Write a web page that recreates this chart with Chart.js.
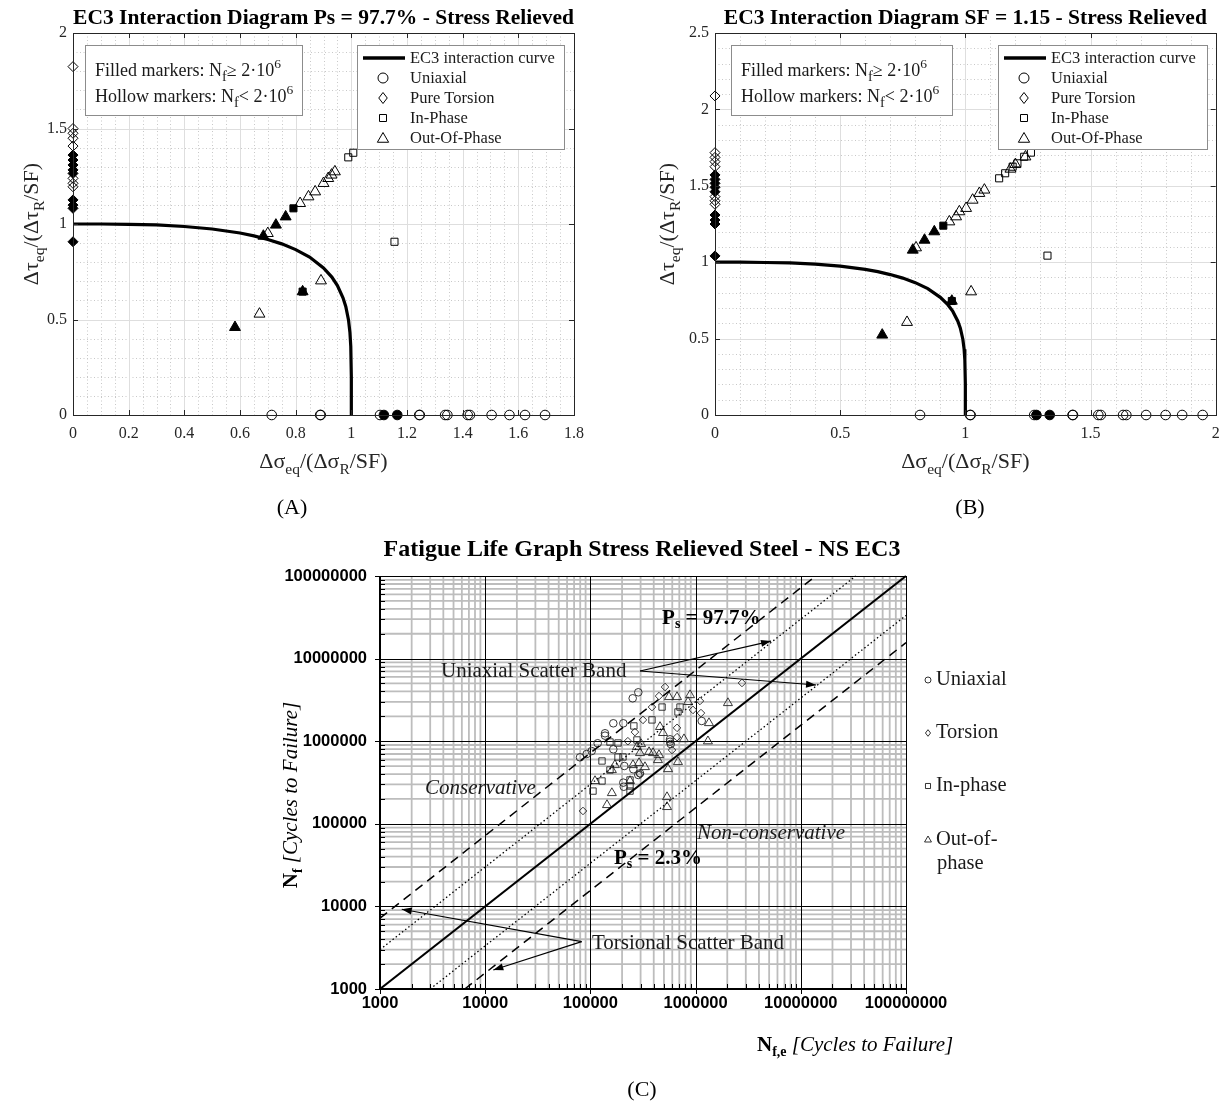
<!DOCTYPE html>
<html><head><meta charset="utf-8">
<script src="https://cdn.jsdelivr.net/npm/chart.js@4.4.1/dist/chart.umd.min.js"></script>
<style>
html,body{margin:0;padding:0;background:#fff;}
#wrap{position:relative;width:1223px;height:1107px;background:#fff;overflow:hidden}
.box{position:absolute}
</style></head><body>
<div id="wrap">
<div class="box" style="left:0;top:0;width:610px;height:530px"><canvas id="cA"></canvas></div>
<div class="box" style="left:610px;top:0;width:613px;height:530px"><canvas id="cB"></canvas></div>
<div class="box" style="left:0;top:530px;width:1223px;height:577px"><canvas id="cC"></canvas></div>
</div>
<script>
// ================= DATA =================
// EC3 interaction curve (normalised axes)
const curveX = [0, 0.1, 0.2, 0.3, 0.4, 0.5, 0.6, 0.65, 0.7, 0.75, 0.8, 0.85, 0.9, 0.93, 0.95, 0.97, 0.98, 0.99, 0.995, 0.998, 1.0, 1.0];
const curveY = [1.0, 1.0, 0.998, 0.995, 0.987, 0.974, 0.953, 0.938, 0.919, 0.896, 0.866, 0.827, 0.770, 0.722, 0.678, 0.614, 0.568, 0.496, 0.431, 0.359, 0.2, 0];

// Panel A : Ps = 97.7 %
const A_uniHollowX = [0.714, 0.888, 0.890, 1.103, 1.244, 1.246, 1.337, 1.345, 1.418, 1.426, 1.504, 1.568, 1.624, 1.696];
const A_uniHollowY = [0, 0, 0, 0, 0, 0, 0, 0, 0, 0, 0, 0, 0, 0];
const A_uniFilledX = [1.117, 1.165];
const A_uniFilledY = [0, 0];
const A_torHollowX = [0, 0, 0, 0, 0, 0, 0, 0];
const A_torHollowY = [1.824, 1.500, 1.475, 1.449, 1.408, 1.239, 1.213, 1.195];
const A_torFilledX = [0, 0, 0, 0, 0, 0, 0, 0, 0];
const A_torFilledY = [1.361, 1.335, 1.309, 1.283, 1.265, 1.126, 1.099, 1.082, 0.907];
const A_inHollowX = [0.989, 1.007, 1.036, 1.052, 1.076, 1.099, 1.155];
const A_inHollowY = [1.349, 1.373, 1.415, 1.435, 1.472, 1.496, 0.907];
const A_inFilledX = [0.792, 0.825];
const A_inFilledY = [1.082, 0.646];
const A_oopHollowX = [0.700, 0.816, 0.846, 0.870, 0.900, 0.917, 0.929, 0.941, 0.891, 0.670];
const A_oopHollowY = [0.951, 1.108, 1.143, 1.169, 1.213, 1.239, 1.257, 1.274, 0.703, 0.529];
const A_oopFilledX = [0.684, 0.729, 0.764, 0.825, 0.582];
const A_oopFilledY = [0.937, 0.995, 1.038, 0.646, 0.459];

// Panel B : SF = 1.15
const B_uniHollowX = [0.819, 1.019, 1.021, 1.275, 1.428, 1.430, 1.531, 1.541, 1.630, 1.643, 1.722, 1.800, 1.866, 1.948];
const B_uniHollowY = [0, 0, 0, 0, 0, 0, 0, 0, 0, 0, 0, 0, 0, 0];
const B_uniFilledX = [1.284, 1.337];
const B_uniFilledY = [0, 0];
const B_torHollowX = [0, 0, 0, 0, 0, 0, 0, 0];
const B_torHollowY = [2.088, 1.717, 1.686, 1.658, 1.625, 1.429, 1.402, 1.379];
const B_torFilledX = [0, 0, 0, 0, 0, 0, 0, 0, 0];
const B_torFilledY = [1.571, 1.542, 1.516, 1.490, 1.461, 1.309, 1.276, 1.250, 1.041];
const B_inHollowX = [1.135, 1.159, 1.189, 1.208, 1.235, 1.262, 1.328];
const B_inHollowY = [1.549, 1.582, 1.625, 1.647, 1.690, 1.717, 1.043];
const B_inFilledX = [0.912, 0.946];
const B_inFilledY = [1.239, 0.746];
const B_oopHollowX = [0.803, 0.936, 0.963, 0.976, 1.003, 1.029, 1.056, 1.076, 1.180, 1.200, 1.240, 1.023, 0.767];
const B_oopHollowY = [1.095, 1.265, 1.298, 1.331, 1.353, 1.407, 1.451, 1.473, 1.610, 1.640, 1.690, 0.807, 0.607];
const B_oopFilledX = [0.790, 0.837, 0.876, 0.946, 0.668];
const B_oopFilledY = [1.080, 1.145, 1.200, 0.746, 0.524];

// Panel C : fatigue life (N_f,e vs N_f)
const C_uniX = [79600, 92200, 102800, 117300, 137700, 137700, 165100, 205500, 252400, 285300, 165100, 210000, 255700, 296000, 285300, 205500, 207700, 571000, 571000, 580000, 1143000];
const C_uniY = [638000, 700000, 760000, 944000, 1247000, 1167000, 1647000, 1647000, 3306000, 3908000, 798000, 501000, 457000, 408000, 390000, 315000, 281000, 1054000, 986000, 925000, 1757000];
const C_torX = [512000, 449000, 385000, 316000, 265000, 227000, 1100000, 944000, 1125000, 666000, 666000, 597000, 296000, 85000, 2760000];
const C_torY = [4530000, 3520000, 2590000, 1810000, 1290000, 1000000, 3070000, 2390000, 2190000, 1450000, 1120000, 782000, 401000, 143000, 5070000];
const C_inX = [480000, 385000, 259000, 277000, 153500, 183000, 183000, 204000, 128900, 153500, 128900, 105900, 238000, 238000, 238000, 711000, 680000];
const C_inY = [2590000, 1810000, 1530000, 1035000, 978000, 951000, 644000, 644000, 576000, 448000, 330000, 249000, 339000, 287000, 249000, 2590000, 2260000];
const C_oopX = [559000, 666000, 885000, 847000, 2030000, 1340000, 1310000, 776000, 459000, 490000, 303000, 277000, 296000, 361000, 394000, 449000, 290000, 439000, 680000, 547000, 254000, 171000, 160000, 110600, 160000, 143800, 238000, 535000, 535000, 330000];
const C_oopY = [3430000, 3430000, 3620000, 2990000, 2900000, 1660000, 1000000, 1060000, 1490000, 1260000, 925000, 851000, 720000, 740000, 720000, 681000, 545000, 592000, 560000, 460000, 515000, 515000, 448000, 330000, 236000, 169000, 330000, 211000, 160000, 487000];
// reference lines (endpoints)
const C_diagX = [1000, 100000000];          const C_diagY = [1000, 100000000];
const C_upDashX = [1000, 13890000];         const C_upDashY = [7200, 100000000];
const C_upDotX = [1000, 33300000];          const C_upDotY = [3000, 100000000];
const C_loDotX = [3000, 100000000];         const C_loDotY = [1000, 33300000];
const C_loDashX = [6400, 100000000];        const C_loDashY = [1000, 15600000];
// tick values / labels
const A_xTicks = [0, 0.2, 0.4, 0.6, 0.8, 1, 1.2, 1.4, 1.6, 1.8];
const A_xTickLabels = ['0', '0.2', '0.4', '0.6', '0.8', '1', '1.2', '1.4', '1.6', '1.8'];
const A_yTicks = [0, 0.5, 1, 1.5, 2];
const A_yTickLabels = ['0', '0.5', '1', '1.5', '2'];
const B_xTicks = [0, 0.5, 1, 1.5, 2];
const B_xTickLabels = ['0', '0.5', '1', '1.5', '2'];
const B_yTicks = [0, 0.5, 1, 1.5, 2, 2.5];
const B_yTickLabels = ['0', '0.5', '1', '1.5', '2', '2.5'];
const C_tickValues = [1000, 10000, 100000, 1000000, 10000000, 100000000];
const C_tickLabels = ['1000', '10000', '100000', '1000000', '10000000', '100000000'];
const legendLabels = ['EC3 interaction curve', 'Uniaxial', 'Pure Torsion', 'In-Phase', 'Out-Of-Phase'];
const C_legendLabels = ['Uniaxial', 'Torsion', 'In-phase', 'Out-of-', 'phase'];

// ================= HELPERS =================
const SERIF = '"Liberation Serif", "Times New Roman", serif';
const SANS = '"Liberation Sans", Arial, sans-serif';
function fontOf(s){ return (s.i?'italic ':'') + (s.b?'bold ':'') + s.z + 'px ' + (s.f || SERIF); }
function drawRich(ctx, segs, x, y, align){
  let w = 0;
  const ws = segs.map(s => { ctx.font = fontOf(s); const m = ctx.measureText(s.t).width; w += m; return m; });
  let cx = align === 'center' ? x - w/2 : (align === 'right' ? x - w : x);
  ctx.textAlign = 'left'; ctx.textBaseline = 'alphabetic';
  segs.forEach((s, k) => { ctx.font = fontOf(s); ctx.fillText(s.t, cx, y + (s.dy || 0)); cx += ws[k]; });
}
function pts(xs, ys){ return xs.map((x, i) => ({x: x, y: ys[i]})); }
function markerSet(label, xs, ys, style, filled, r, bw, col){
  return {label, data: pts(xs, ys), showLine: false, pointStyle: style, pointRadius: r, pointHoverRadius: r,
    pointBackgroundColor: filled ? '#000' : 'rgba(0,0,0,0)', pointBorderColor: col || '#000',
    pointBorderWidth: bw || 1, clip: false};
}
function lineSet(label, xs, ys, width, dash){
  return {label, data: pts(xs, ys), showLine: true, borderColor: '#000', backgroundColor: '#000', borderWidth: width,
    borderDash: dash || [], pointRadius: 0, pointHoverRadius: 0, fill: false, tension: 0, clip: false};
}
function drawMarker(ctx, style, x, y, r, filled, lw){
  ctx.save(); ctx.beginPath();
  if (style === 'circle') ctx.arc(x, y, r, 0, Math.PI*2);
  else if (style === 'rectRot') { ctx.moveTo(x, y - r*1.1); ctx.lineTo(x + r*0.85, y); ctx.lineTo(x, y + r*1.1); ctx.lineTo(x - r*0.85, y); ctx.closePath(); }
  else if (style === 'rect') { const h = r*0.7; ctx.rect(x - h, y - h, 2*h, 2*h); }
  else if (style === 'triangle') { ctx.moveTo(x, y - r); ctx.lineTo(x + r*0.866, y + r*0.5); ctx.lineTo(x - r*0.866, y + r*0.5); ctx.closePath(); }
  ctx.lineWidth = lw || 1; ctx.strokeStyle = '#000';
  if (filled) { ctx.fillStyle = '#000'; ctx.fill(); }
  ctx.stroke(); ctx.restore();
}
function fitX(h){ return s => { s.height = h; s.paddingLeft = 0; s.paddingRight = 0; }; }
function fitY(w){ return s => { s.width = w; s.paddingTop = 0; s.paddingBottom = 0; }; }

// ================= PANELS A & B =================
function interactionChart(canvasId, o){
  const ds = [
    lineSet(legendLabels[0], curveX, curveY, 3.2),
    markerSet('Uniaxial', o.uniHollowX, o.uniHollowY, 'circle', false, 4.8),
    markerSet('Uniaxial filled', o.uniFilledX, o.uniFilledY, 'circle', true, 4.8),
    markerSet('Pure Torsion', o.torHollowX, o.torHollowY, 'rectRot', false, 5),
    markerSet('Pure Torsion filled', o.torFilledX, o.torFilledY, 'rectRot', true, 5),
    markerSet('Out-Of-Phase', o.oopHollowX, o.oopHollowY, 'triangle', false, 6.3),
    markerSet('Out-Of-Phase filled', o.oopFilledX, o.oopFilledY, 'triangle', true, 6.3),
    markerSet('In-Phase', o.inHollowX, o.inHollowY, 'rect', false, 5),
    markerSet('In-Phase filled', o.inFilledX, o.inFilledY, 'rect', true, 5)
  ];
  const tickFont = {family: SERIF, size: 16};
  const deco = {
    id: 'deco' + canvasId,
    beforeDatasetsDraw(chart){
      const {ctx, chartArea: a, scales: {x, y}} = chart;
      ctx.save();
      ctx.lineWidth = 1;
      ctx.strokeStyle = '#c8c8c8'; ctx.setLineDash([1, 2.5]);
      const nx = Math.round(o.xMax / o.xMinor), ny = Math.round(o.yMax / o.yMinor);
      for (let k = 1; k < nx; k++){ const px = Math.round(x.getPixelForValue(k*o.xMinor)) + 0.5; ctx.beginPath(); ctx.moveTo(px, a.top); ctx.lineTo(px, a.bottom); ctx.stroke(); }
      for (let k = 1; k < ny; k++){ const py = Math.round(y.getPixelForValue(k*o.yMinor)) + 0.5; ctx.beginPath(); ctx.moveTo(a.left, py); ctx.lineTo(a.right, py); ctx.stroke(); }
      ctx.setLineDash([]); ctx.strokeStyle = '#dedede';
      o.xTicks.forEach(v => { const px = Math.round(x.getPixelForValue(v)) + 0.5; ctx.beginPath(); ctx.moveTo(px, a.top); ctx.lineTo(px, a.bottom); ctx.stroke(); });
      o.yTicks.forEach(v => { const py = Math.round(y.getPixelForValue(v)) + 0.5; ctx.beginPath(); ctx.moveTo(a.left, py); ctx.lineTo(a.right, py); ctx.stroke(); });
      ctx.restore();
    },
    afterDraw(chart){
      const {ctx, chartArea: a, scales: {x, y}} = chart;
      ctx.save();
      // frame + inward ticks
      ctx.strokeStyle = '#262626'; ctx.lineWidth = 1;
      ctx.strokeRect(Math.round(a.left) + 0.5, Math.round(a.top) + 0.5, Math.round(a.right - a.left), Math.round(a.bottom - a.top));
      const tl = 5;
      o.xTicks.forEach(v => { const px = Math.round(x.getPixelForValue(v)) + 0.5;
        ctx.beginPath(); ctx.moveTo(px, a.bottom); ctx.lineTo(px, a.bottom - tl); ctx.moveTo(px, a.top); ctx.lineTo(px, a.top + tl); ctx.stroke(); });
      o.yTicks.forEach(v => { const py = Math.round(y.getPixelForValue(v)) + 0.5;
        ctx.beginPath(); ctx.moveTo(a.left, py); ctx.lineTo(a.left + tl, py); ctx.moveTo(a.right, py); ctx.lineTo(a.right - tl, py); ctx.stroke(); });
      // annotation box
      const bx = a.left + o.annX, by = a.top + 12;
      ctx.fillStyle = '#fff'; ctx.fillRect(bx, by, o.annW, 70);
      ctx.strokeStyle = '#8c8c8c'; ctx.strokeRect(bx + 0.5, by + 0.5, o.annW, 70);
      ctx.fillStyle = '#1a1a1a';
      drawRich(ctx, [{t:'Filled markers: N', z:18}, {t:'f', z:14.5, dy:5}, {t:'\u2265 2\u00b710', z:18}, {t:'6', z:13.5, dy:-8}], bx + 10, by + 31, 'left');
      drawRich(ctx, [{t:'Hollow markers: N', z:18}, {t:'f', z:14.5, dy:5}, {t:'< 2\u00b710', z:18}, {t:'6', z:13.5, dy:-8}], bx + 10, by + 57, 'left');
      // legend
      const lx = a.left + o.legX, ly = a.top + 12, lw = o.legW;
      ctx.fillStyle = '#fff'; ctx.fillRect(lx, ly, lw, 104);
      ctx.strokeStyle = '#8c8c8c'; ctx.strokeRect(lx + 0.5, ly + 0.5, lw, 104);
      ctx.strokeStyle = '#000'; ctx.lineWidth = 3.5;
      ctx.beginPath(); ctx.moveTo(lx + 6, ly + 13); ctx.lineTo(lx + 48, ly + 13); ctx.stroke();
      drawMarker(ctx, 'circle', lx + 26, ly + 33, 5, false, 1);
      drawMarker(ctx, 'rectRot', lx + 26, ly + 53, 5, false, 1);
      drawMarker(ctx, 'rect', lx + 26, ly + 73, 5, false, 1);
      drawMarker(ctx, 'triangle', lx + 26, ly + 94, 6.5, false, 1);
      ctx.fillStyle = '#1a1a1a'; ctx.font = '16.5px ' + SERIF; ctx.textAlign = 'left'; ctx.textBaseline = 'middle';
      legendLabels.forEach((t, k) => ctx.fillText(t, lx + 53, ly + 14 + 20*k));
      // title
      ctx.fillStyle = '#000'; ctx.font = 'bold 21.5px ' + SERIF; ctx.textAlign = 'center'; ctx.textBaseline = 'alphabetic';
      ctx.fillText(o.title, (a.left + a.right)/2, 24);
      // axis titles
      ctx.fillStyle = '#262626';
      drawRich(ctx, [{t:'\u0394\u03c3', z:22}, {t:'eq', z:15.5, dy:6}, {t:'/(\u0394\u03c3', z:22}, {t:'R', z:15.5, dy:6}, {t:'/SF)', z:22}], (a.left + a.right)/2, 468, 'center');
      ctx.save(); ctx.translate(o.yTitleX, (a.top + a.bottom)/2); ctx.rotate(-Math.PI/2);
      drawRich(ctx, [{t:'\u0394\u03c4', z:22}, {t:'eq', z:15.5, dy:6}, {t:'/(\u0394\u03c4', z:22}, {t:'R', z:15.5, dy:6}, {t:'/SF)', z:22}], 0, 0, 'center');
      ctx.restore();
      // panel label
      ctx.fillStyle = '#000'; ctx.font = '22px ' + SERIF; ctx.textAlign = 'center'; ctx.textBaseline = 'middle';
      ctx.fillText(o.panel, o.panelX, 508);
      ctx.restore();
    }
  };
  return new Chart(document.getElementById(canvasId), {
    type: 'scatter',
    data: {datasets: ds},
    options: {
      responsive: true, maintainAspectRatio: false, animation: false, events: [],
      layout: {padding: {top: 33, right: o.padRight, left: 0, bottom: 0}},
      plugins: {legend: {display: false}, tooltip: {enabled: false}, title: {display: false}},
      scales: {
        x: {type: 'linear', min: 0, max: o.xMax,
            afterBuildTicks: s => { s.ticks = o.xTicks.map(v => ({value: v})); },
            ticks: {callback: (v, i) => o.xTickLabels[i], font: tickFont, color: '#262626', padding: 9, maxRotation: 0, autoSkip: false},
            grid: {display: false, drawTicks: false}, border: {display: false},
            afterFit: fitX(115)},
        y: {type: 'linear', min: 0, max: o.yMax,
            afterBuildTicks: s => { s.ticks = o.yTicks.map(v => ({value: v})); },
            ticks: {callback: (v, i) => o.yTickLabels[i], font: tickFont, color: '#262626', padding: 6, autoSkip: false},
            grid: {display: false, drawTicks: false}, border: {display: false},
            afterFit: fitY(o.yWidth)}
      }
    },
    plugins: [deco]
  });
}

interactionChart('cA', {
  uniHollowX: A_uniHollowX, uniHollowY: A_uniHollowY, uniFilledX: A_uniFilledX, uniFilledY: A_uniFilledY,
  torHollowX: A_torHollowX, torHollowY: A_torHollowY, torFilledX: A_torFilledX, torFilledY: A_torFilledY,
  inHollowX: A_inHollowX, inHollowY: A_inHollowY, inFilledX: A_inFilledX, inFilledY: A_inFilledY,
  oopHollowX: A_oopHollowX, oopHollowY: A_oopHollowY, oopFilledX: A_oopFilledX, oopFilledY: A_oopFilledY,
  xMax: 1.8, yMax: 2, xTicks: A_xTicks, yTicks: A_yTicks, xTickLabels: A_xTickLabels, yTickLabels: A_yTickLabels,
  xMinor: 0.05, yMinor: 0.1,
  yWidth: 73, padRight: 36, annX: 12, annW: 217, legX: 284, legW: 207, yTitleX: 38,
  title: 'EC3 Interaction Diagram Ps = 97.7% - Stress Relieved', panel: '(A)', panelX: 292
});
interactionChart('cB', {
  uniHollowX: B_uniHollowX, uniHollowY: B_uniHollowY, uniFilledX: B_uniFilledX, uniFilledY: B_uniFilledY,
  torHollowX: B_torHollowX, torHollowY: B_torHollowY, torFilledX: B_torFilledX, torFilledY: B_torFilledY,
  inHollowX: B_inHollowX, inHollowY: B_inHollowY, inFilledX: B_inFilledX, inFilledY: B_inFilledY,
  oopHollowX: B_oopHollowX, oopHollowY: B_oopHollowY, oopFilledX: B_oopFilledX, oopFilledY: B_oopFilledY,
  xMax: 2, yMax: 2.5, xTicks: B_xTicks, yTicks: B_yTicks, xTickLabels: B_xTickLabels, yTickLabels: B_yTickLabels,
  xMinor: 0.1, yMinor: 0.1,
  yWidth: 105, padRight: 6, annX: 16, annW: 221, legX: 283, legW: 209, yTitleX: 64,
  title: 'EC3 Interaction Diagram SF = 1.15 - Stress Relieved', panel: '(B)', panelX: 360
});

// ================= PANEL C =================
(function(){
  const ds = [
    lineSet('Equal life', C_diagX, C_diagY, 2.2),
    lineSet('Ps = 97.7% (torsion)', C_upDashX, C_upDashY, 1.5, [9, 6]),
    lineSet('Ps = 97.7% (uniaxial)', C_upDotX, C_upDotY, 1.3, [1.5, 2.5]),
    lineSet('Ps = 2.3% (uniaxial)', C_loDotX, C_loDotY, 1.3, [1.5, 2.5]),
    lineSet('Ps = 2.3% (torsion)', C_loDashX, C_loDashY, 1.5, [9, 6]),
    markerSet('Uniaxial', C_uniX, C_uniY, 'circle', false, 3.8, 0.9, '#222'),
    markerSet('Torsion', C_torX, C_torY, 'rectRot', false, 3.8, 0.9, '#222'),
    markerSet('In-phase', C_inX, C_inY, 'rect', false, 4.5, 0.9, '#222'),
    markerSet('Out-of-phase', C_oopX, C_oopY, 'triangle', false, 5.2, 0.9, '#222')
  ];
  const minors = [2, 3, 4, 5, 6, 7, 8, 9];
  function arrow(ctx, x0, y0, x1, y1){
    ctx.beginPath(); ctx.moveTo(x0, y0); ctx.lineTo(x1, y1); ctx.stroke();
    const ang = Math.atan2(y1 - y0, x1 - x0), L = 10, W = 3.5;
    ctx.beginPath(); ctx.moveTo(x1, y1);
    ctx.lineTo(x1 - L*Math.cos(ang) + W*Math.sin(ang), y1 - L*Math.sin(ang) - W*Math.cos(ang));
    ctx.lineTo(x1 - L*Math.cos(ang) - W*Math.sin(ang), y1 - L*Math.sin(ang) + W*Math.cos(ang));
    ctx.closePath(); ctx.fill();
  }
  const deco = {
    id: 'decoC',
    beforeDatasetsDraw(chart){
      const {ctx, chartArea: a, scales: {x, y}} = chart;
      ctx.save();
      ctx.strokeStyle = '#bdbdbd'; ctx.lineWidth = 1.8;
      for (let e = 3; e < 8; e++) minors.forEach(m => {
        const v = m * Math.pow(10, e);
        const px = x.getPixelForValue(v), py = y.getPixelForValue(v);
        ctx.beginPath(); ctx.moveTo(px, a.top); ctx.lineTo(px, a.bottom); ctx.stroke();
        ctx.beginPath(); ctx.moveTo(a.left, py); ctx.lineTo(a.right, py); ctx.stroke();
      });
      ctx.strokeStyle = '#000'; ctx.lineWidth = 1;
      C_tickValues.forEach(v => {
        const px = Math.round(x.getPixelForValue(v)) + 0.5, py = Math.round(y.getPixelForValue(v)) + 0.5;
        ctx.beginPath(); ctx.moveTo(px, a.top); ctx.lineTo(px, a.bottom); ctx.stroke();
        ctx.beginPath(); ctx.moveTo(a.left, py); ctx.lineTo(a.right, py); ctx.stroke();
      });
      ctx.restore();
    },
    afterDraw(chart){
      const {ctx, chartArea: a, scales: {x, y}} = chart;
      const P = (vx, vy) => [x.getPixelForValue(vx), y.getPixelForValue(vy)];
      ctx.save();
      // frame
      ctx.strokeStyle = '#000'; ctx.lineWidth = 1;
      ctx.strokeRect(Math.round(a.left) + 0.5, Math.round(a.top) + 0.5, Math.round(a.right - a.left), Math.round(a.bottom - a.top));
      ctx.lineWidth = 2;
      ctx.beginPath(); ctx.moveTo(a.left, a.top); ctx.lineTo(a.left, a.bottom); ctx.lineTo(a.right, a.bottom); ctx.stroke();
      ctx.lineWidth = 1;
      for (let e = 3; e < 8; e++) minors.forEach(m => {
        const v = m * Math.pow(10, e);
        const px = Math.round(x.getPixelForValue(v)) + 0.5, py = Math.round(y.getPixelForValue(v)) + 0.5;
        ctx.beginPath(); ctx.moveTo(px, a.bottom); ctx.lineTo(px, a.bottom - 5); ctx.stroke();
        ctx.beginPath(); ctx.moveTo(a.left, py); ctx.lineTo(a.left + 5, py); ctx.stroke();
      });
      C_tickValues.forEach(v => {
        const px = Math.round(x.getPixelForValue(v)) + 0.5, py = Math.round(y.getPixelForValue(v)) + 0.5;
        ctx.beginPath(); ctx.moveTo(px, a.bottom + 5); ctx.lineTo(px, a.bottom - 6); ctx.stroke();
        ctx.beginPath(); ctx.moveTo(a.left - 5, py); ctx.lineTo(a.left + 6, py); ctx.stroke();
      });
      // arrows
      ctx.strokeStyle = '#000'; ctx.fillStyle = '#000'; ctx.lineWidth = 1.2;
      let s = P(296000, 7080000);
      let t = P(5210000, 16300000); arrow(ctx, s[0], s[1], t[0], t[1]);
      t = P(13960000, 4790000); arrow(ctx, s[0], s[1], t[0], t[1]);
      s = P(82600, 3740);
      t = P(1610, 9230); arrow(ctx, s[0], s[1], t[0], t[1]);
      t = P(11940, 1700); arrow(ctx, s[0], s[1], t[0], t[1]);
      function label(txt, vx, vy, font){
        const p = P(vx, vy); ctx.font = font; ctx.textAlign = 'left'; ctx.textBaseline = 'middle';
        ctx.fillStyle = '#1a1a1a'; ctx.fillText(txt, p[0], p[1]);
      }
      label('Uniaxial Scatter Band', 3800, 6890000, '21px ' + SERIF);
      label('Torsional Scatter Band', 103500, 3600, '21px ' + SERIF);
      label('Conservative', 2680, 271000, 'italic 21px ' + SERIF);
      label('Non-conservative', 1030000, 77400, 'italic 21px ' + SERIF);
      ctx.fillStyle = '#000';
      let p = P(480000, 31900000);
      drawRich(ctx, [{t:'P', z:21, b:true}, {t:'s', z:14, b:true, dy:4}, {t:' = 97.7%', z:21, b:true}], p[0], p[1] + 7, 'left');
      p = P(167500, 39600);
      drawRich(ctx, [{t:'P', z:21, b:true}, {t:'s', z:14, b:true, dy:4}, {t:' = 2.3%', z:21, b:true}], p[0], p[1] + 7, 'left');
      // legend (right side)
      const lgY = [150, 203, 256, 310];
      const st = ['circle', 'rectRot', 'rect', 'triangle'];
      const rr = [3, 3, 3.6, 4];
      ctx.font = '20.5px ' + SERIF; ctx.textAlign = 'left'; ctx.textBaseline = 'middle';
      st.forEach((m, k) => { drawMarker(ctx, m, 928, lgY[k], rr[k], false, 0.8); ctx.fillStyle = '#1a1a1a'; ctx.fillText(C_legendLabels[k], 936, lgY[k]); });
      ctx.fillText(C_legendLabels[4], 937, 334);
      // title
      ctx.fillStyle = '#000'; ctx.font = 'bold 24px ' + SERIF; ctx.textAlign = 'center'; ctx.textBaseline = 'alphabetic';
      ctx.fillText('Fatigue Life Graph Stress Relieved Steel - NS EC3', 642, 26);
      // axis titles
      drawRich(ctx, [{t:'N', z:21, b:true}, {t:'f,e', z:14, b:true, dy:5}, {t:' [Cycles to Failure]', z:21, i:true}], 757, 521, 'left');
      ctx.save(); ctx.translate(297, 265); ctx.rotate(-Math.PI/2);
      drawRich(ctx, [{t:'N', z:21, b:true}, {t:'f', z:14, b:true, dy:5}, {t:' [Cycles to Failure]', z:21, i:true}], 0, 0, 'center');
      ctx.restore();
      // panel label
      ctx.font = '22px ' + SERIF; ctx.textAlign = 'center'; ctx.textBaseline = 'middle';
      ctx.fillText('(C)', 642, 560);
      ctx.restore();
    }
  };
  const tf = {family: SANS, size: 16.5, weight: 'bold'};
  new Chart(document.getElementById('cC'), {
    type: 'scatter',
    data: {datasets: ds},
    options: {
      responsive: true, maintainAspectRatio: false, animation: false, events: [],
      layout: {padding: {top: 46, right: 317, left: 0, bottom: 0}},
      plugins: {legend: {display: false}, tooltip: {enabled: false}, title: {display: false}},
      scales: {
        x: {type: 'logarithmic', min: 1000, max: 100000000,
            afterBuildTicks: s => { s.ticks = C_tickValues.map(v => ({value: v})); },
            ticks: {callback: (v, i) => C_tickLabels[i], font: tf, color: '#000', padding: 5, maxRotation: 0, autoSkip: false},
            grid: {display: false, drawTicks: false}, border: {display: false},
            afterFit: fitX(118)},
        y: {type: 'logarithmic', min: 1000, max: 100000000,
            afterBuildTicks: s => { s.ticks = C_tickValues.map(v => ({value: v})); },
            ticks: {callback: (v, i) => C_tickLabels[i], font: tf, color: '#000', padding: 13, autoSkip: false},
            grid: {display: false, drawTicks: false}, border: {display: false},
            afterFit: fitY(380)}
      }
    },
    plugins: [deco]
  });
})();
</script>
</body></html>
